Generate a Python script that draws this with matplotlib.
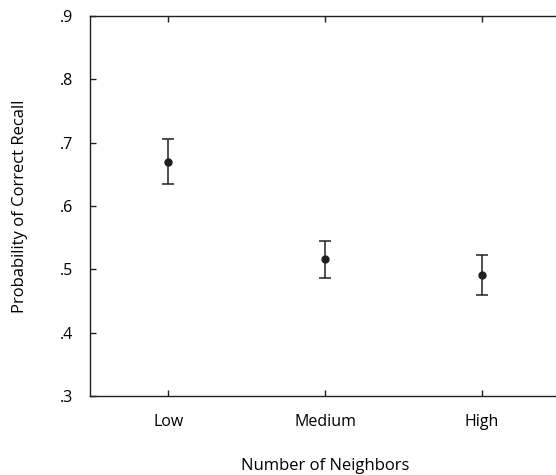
import matplotlib
matplotlib.use("Agg")
import matplotlib.pyplot as plt

categories = ["Low", "Medium", "High"]
means = [0.670, 0.516, 0.491]
upper = [0.706, 0.545, 0.523]
lower = [0.635, 0.486, 0.459]
yticks = [0.3, 0.4, 0.5, 0.6, 0.7, 0.8, 0.9]
ytick_labels = [".3", ".4", ".5", ".6", ".7", ".8", ".9"]

plt.rcParams['font.family'] = ['Open Sans', 'DejaVu Sans']

fig = plt.figure(figsize=(5.56, 4.75), dpi=100)
ax = fig.add_axes([90 / 556, 79 / 475, 470.5 / 556, 380 / 475])

x = list(range(1, len(categories) + 1))
err_lo = [m - l for m, l in zip(means, lower)]
err_hi = [u - m for m, u in zip(means, upper)]
ax.errorbar(x, means, yerr=[err_lo, err_hi], fmt='o', color='#231f20',
            markersize=5, elinewidth=1.1, capsize=4, capthick=1.1)

ax.set_xlim(0.5, 3.5)
ax.set_ylim(0.3, 0.9)
ax.set_xticks(x)
ax.set_xticklabels(categories)
ax.set_yticks(yticks)
ax.set_yticklabels(ytick_labels)

for side in ['left', 'bottom', 'top']:
    ax.spines[side].set_color('#231f20')
    ax.spines[side].set_linewidth(1.0)
ax.spines['right'].set_visible(False)

ax.tick_params(axis='x', direction='in', top=True, length=4, width=1,
               color='#231f20', labelsize=11.5, pad=13)
ax.tick_params(axis='y', direction='in', length=4, width=1,
               color='#231f20', labelsize=11.5, pad=12)

ax.set_xlabel("Number of Neighbors", fontsize=12, labelpad=20)
ax.set_ylabel("Probability of Correct Recall", fontsize=12, labelpad=23)

fig.savefig("out.png", dpi=100)
